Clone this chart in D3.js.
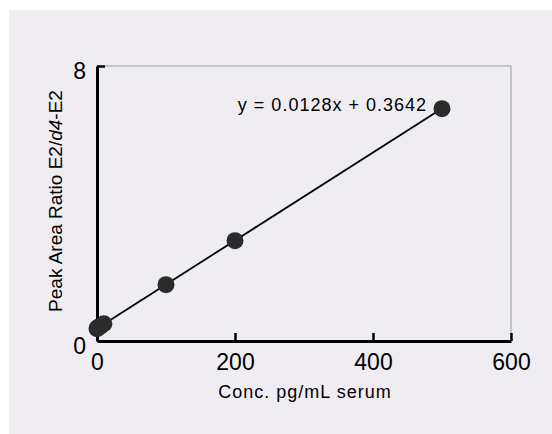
<!DOCTYPE html>
<html>
<head>
    <title>Calibration curve</title>
    <script src="https://d3js.org/d3.v7.min.js"></script>
    <style>
        body { margin: 0; background: #fff; font-family: "Liberation Sans", Arial, sans-serif; }
        .panel { fill: #efedf2; }
    </style>
</head>
<body>
    <div id="chart"></div>
    <script>
        // calibration standards (pg/mL) and measured peak area ratios
        const conc = [0, 1, 2, 5, 10, 100, 200, 500];
        const ratio = [0.36, 0.38, 0.40, 0.43, 0.50, 1.64, 2.92, 6.76];
        const slope = 0.0128, intercept = 0.3642;
        const xTicks = [0, 200, 400, 600];
        const yTicks = [0, 8];

        const width = 552, height = 434;
        const margin = { top: 66, right: 41, bottom: 93, left: 97 };

        const svg = d3.select("#chart").append("svg")
            .attr("width", width)
            .attr("height", height);

        svg.append("rect").attr("class", "panel")
            .attr("x", 9).attr("y", 10)
            .attr("width", width - 9).attr("height", height - 10);

        const x = d3.scaleLinear().domain([0, 600]).range([margin.left, width - margin.right]);
        const y = d3.scaleLinear().domain([0, 8]).range([height - margin.bottom, margin.top]);

        // thin frame on top and right
        svg.append("path")
            .attr("d", `M${x(0)},${y(8)}H${x(600)}V${y(0)}`)
            .attr("fill", "none").attr("stroke", "#999").attr("stroke-width", 1);

        // bottom axis
        const xAxis = svg.append("g")
            .attr("transform", `translate(0,${y(0)})`)
            .call(d3.axisBottom(x).tickValues(xTicks).tickSize(-8).tickPadding(12).tickSizeOuter(0));
        xAxis.select(".domain").attr("stroke", "#000").attr("stroke-width", 3);
        xAxis.selectAll(".tick line").attr("stroke", "#000").attr("stroke-width", 2.5)
            .filter(d => d === 0).remove();
        xAxis.selectAll("text").attr("font-size", 23).attr("fill", "#000")
            .attr("font-family", "Liberation Sans, Arial, sans-serif")
            .attr("y", 29).attr("dy", 0);

        // left axis
        const yAxis = svg.append("g")
            .attr("transform", `translate(${x(0)},0)`)
            .call(d3.axisLeft(y).tickValues(yTicks).tickSize(-8).tickPadding(11).tickSizeOuter(0));
        yAxis.select(".domain").attr("stroke", "#000").attr("stroke-width", 3);
        yAxis.selectAll(".tick line").attr("stroke", "#000").attr("stroke-width", 2.5)
            .filter(d => d === 0).remove();
        yAxis.selectAll("text").attr("font-size", 23).attr("fill", "#000")
            .attr("font-family", "Liberation Sans, Arial, sans-serif")
            .attr("dy", 0);
        yAxis.selectAll(".tick").filter(d => d === 8).select("text").attr("y", 12);
        yAxis.selectAll(".tick").filter(d => d === 0).select("text").attr("y", 12);

        // regression line
        svg.append("line")
            .attr("x1", x(0)).attr("y1", y(intercept))
            .attr("x2", x(500)).attr("y2", y(slope * 500 + intercept))
            .attr("stroke", "#000").attr("stroke-width", 1.8);

        // points
        svg.selectAll(".pt")
            .data(conc.map((c, i) => [c, ratio[i]]))
            .enter().append("circle")
            .attr("class", "pt")
            .attr("cx", d => x(d[0]))
            .attr("cy", d => y(d[1]))
            .attr("r", 8.5)
            .attr("fill", "#2b2b2b");

        svg.append("text")
            .attr("x", 427).attr("y", 111)
            .attr("text-anchor", "end")
            .attr("font-size", 18)
            .attr("letter-spacing", 1)
            .text(`y = ${slope}x + ${intercept}`);

        svg.append("text")
            .attr("x", 305).attr("y", 398)
            .attr("text-anchor", "middle")
            .attr("font-size", 18)
            .attr("letter-spacing", 1)
            .text("Conc. pg/mL serum");

        const yl = svg.append("text")
            .attr("transform", `translate(62,201) rotate(-90)`)
            .attr("text-anchor", "middle")
            .attr("font-size", 19);
        yl.append("tspan").text("Peak Area Ratio E2/");
        yl.append("tspan").attr("font-style", "italic").text("d4");
        yl.append("tspan").text("-E2");
    </script>
</body>
</html>
